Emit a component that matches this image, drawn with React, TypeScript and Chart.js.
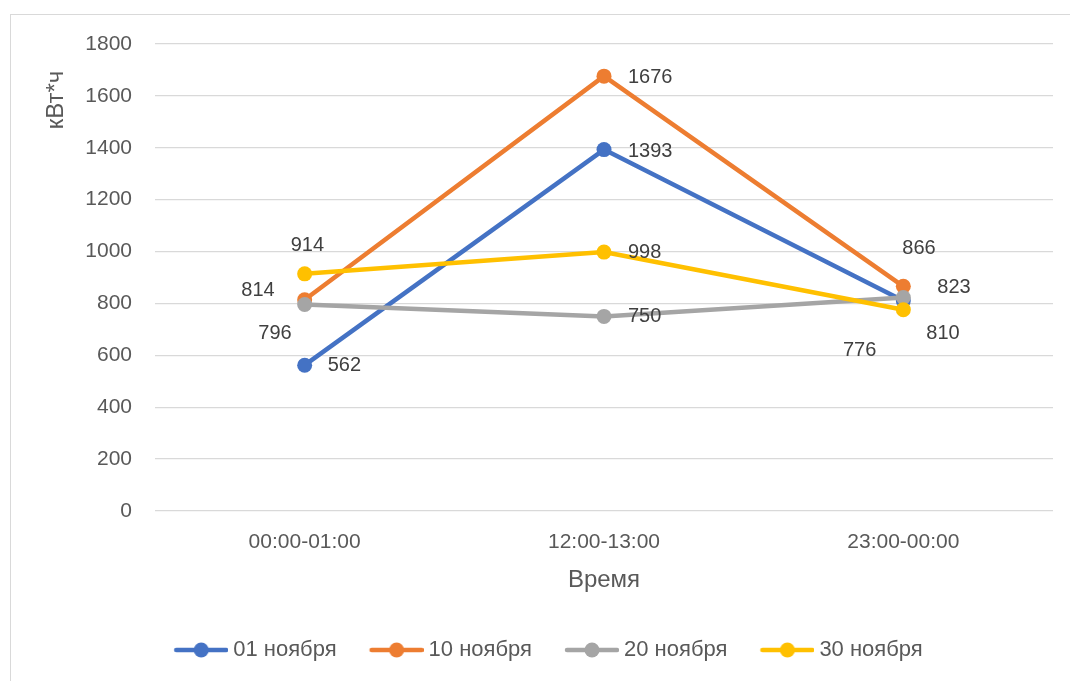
import React, { useEffect, useRef } from "react";
import { Chart, registerables } from "chart.js";

Chart.register(...registerables);

// ---- data ----
const categories = ["00:00-01:00", "12:00-13:00", "23:00-00:00"];
const seriesNames = ["01 ноября", "10 ноября", "20 ноября", "30 ноября"];
const nov01 = [562, 1393, 810];
const nov10 = [814, 1676, 866];
const nov20 = [796, 750, 823];
const nov30 = [914, 998, 776];
const yTicks = [0, 200, 400, 600, 800, 1000, 1200, 1400, 1600, 1800];
const yTitle = "кВт*ч";
const xTitle = "Время";

// ---- styles ----
const colors = ["#4472C4", "#ED7D31", "#A5A5A5", "#FFC000"];
const FONT = "'Liberation Sans', Arial, sans-serif";
// label offsets per dataset per point: [dx, dy, textAlign]
const labelOffsets: [number, number, CanvasTextAlign][][] = [
  [[23, 0, "left"], [24, 2, "left"], [23, 33, "left"]],
  [[-30, -9, "right"], [24, 1, "left"], [-1, -38, "left"]],
  [[-13, 29, "right"], [24, 0, "left"], [34, -10, "left"]],
  [[-14, -28, "left"], [24, 0, "left"], [-27, 41, "right"]],
];

function makeLegendMarker(color: string): HTMLCanvasElement {
  const c = document.createElement("canvas");
  c.width = 58;
  c.height = 16;
  const ctx = c.getContext("2d")!;
  ctx.strokeStyle = color;
  ctx.lineWidth = 4.5;
  ctx.lineCap = "round";
  ctx.beginPath();
  ctx.moveTo(6, 8);
  ctx.lineTo(56, 8);
  ctx.stroke();
  ctx.fillStyle = color;
  ctx.beginPath();
  ctx.arc(31, 8, 7.5, 0, Math.PI * 2);
  ctx.fill();
  return c;
}

export default function App() {
  const ref = useRef<HTMLCanvasElement | null>(null);

  useEffect(() => {
    if (!ref.current) return;
    const values = [nov01, nov10, nov20, nov30];
    const markers = colors.map(makeLegendMarker);

    const labelPlugin = {
      id: "valueLabels",
      afterDatasetsDraw(chart: any) {
        const ctx = chart.ctx;
        ctx.save();
        ctx.font = `20px ${FONT}`;
        ctx.fillStyle = "#404040";
        ctx.textBaseline = "middle";
        chart.data.datasets.forEach((ds: any, di: number) => {
          const meta = chart.getDatasetMeta(di);
          meta.data.forEach((pt: any, pi: number) => {
            const [dx, dy, align] = labelOffsets[di][pi];
            ctx.textAlign = align;
            ctx.fillText(String(ds.data[pi]), pt.x + dx, pt.y + dy);
          });
        });
        ctx.restore();
      },
    };

    const yTitlePlugin = {
      id: "yTitle",
      afterDraw(chart: any) {
        const ctx = chart.ctx;
        const area = chart.chartArea;
        ctx.save();
        ctx.font = `24px ${FONT}`;
        ctx.fillStyle = "#595959";
        ctx.textAlign = "center";
        ctx.textBaseline = "middle";
        ctx.translate(56, area.top + 56);
        ctx.rotate(-Math.PI / 2);
        ctx.fillText(yTitle, 0, 0);
        ctx.restore();
      },
    };

    const chart = new Chart(ref.current, {
      type: "line",
      data: {
        labels: categories,
        datasets: values.map((v, i) => ({
          label: seriesNames[i],
          data: v,
          borderColor: colors[i],
          backgroundColor: colors[i],
          pointBackgroundColor: colors[i],
          pointBorderColor: colors[i],
          borderWidth: 4.5,
          pointRadius: 7.5,
          pointBorderWidth: 0,
          borderCapStyle: "round",
          borderJoinStyle: "round",
          tension: 0,
          order: values.length - i,
        })),
      },
      options: {
        responsive: false,
        animation: false,
        devicePixelRatio: 1,
        layout: { padding: { left: 46, right: 17, top: 44, bottom: 10 } },
        plugins: {
          tooltip: { enabled: false },
          legend: {
            position: "bottom",
            labels: {
              usePointStyle: true,
              pointStyleWidth: 46,
              padding: 35,
              color: "#595959",
              font: { family: FONT, size: 22 },
              sort: (a: any, b: any) => a.datasetIndex - b.datasetIndex,
              generateLabels: (chart: any) => {
                const items = (Chart as any).defaults.plugins.legend.labels.generateLabels(chart);
                items.forEach((it: any) => {
                  it.pointStyle = markers[it.datasetIndex];
                });
                return items;
              },
            },
          },
        },
        scales: {
          x: {
            offset: true,
            grid: { display: false, drawTicks: false },
            border: { display: false },
            ticks: { color: "#595959", font: { family: FONT, size: 21 }, padding: 19, maxRotation: 0 },
            title: {
              display: true,
              text: xTitle,
              color: "#595959",
              font: { family: FONT, size: 24 },
              padding: { top: 0, bottom: 9 },
            },
            afterFit: (scale: any) => {
              scale.height = 93;
            },
          },
          y: {
            min: 0,
            max: 1800,
            afterBuildTicks: (scale: any) => {
              scale.ticks = yTicks.map((v) => ({ value: v }));
            },
            grid: { color: "#D9D9D9", lineWidth: 1.3, drawTicks: false },
            border: { display: false },
            ticks: {
              color: "#595959",
              font: { family: FONT, size: 21 },
              padding: 23,
              callback: (v: any) => String(v),
            },
            afterFit: (scale: any) => {
              scale.width = 109;
            },
          },
        },
      },
      plugins: [labelPlugin, yTitlePlugin],
    } as any);
    return () => chart.destroy();
  }, []);

  return (
    <div
      style={{
        position: "fixed",
        left: 0,
        top: 0,
        width: 1070,
        height: 681,
        overflow: "hidden",
        background: "#fff",
      }}
    >
      <div
        style={{
          position: "absolute",
          left: 10,
          top: 14,
          width: 1100,
          height: 700,
          border: "1px solid #D9D9D9",
          boxSizing: "border-box",
        }}
      />
      <canvas
        ref={ref}
        width={1070}
        height={681}
        style={{ position: "absolute", left: 0, top: 0, width: 1070, height: 681 }}
      />
    </div>
  );
}
